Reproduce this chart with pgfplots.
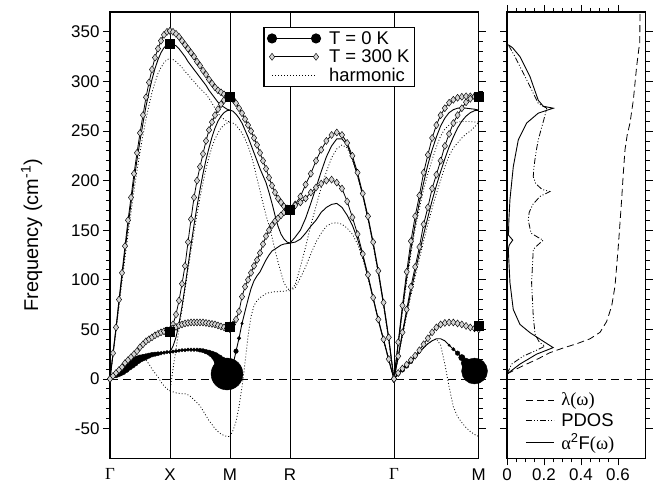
\documentclass[border=0pt]{standalone}
\usepackage{fontspec}
\setmainfont{Liberation Sans}
\newfontfamily\grk{Liberation Serif}
\usepackage{pgfplots}
\pgfplotsset{compat=1.18}
\usepackage{pgfplotstable}
\definecolor{diamgray}{HTML}{D4D4D4}
\newcommand\fsz{\fontsize{17}{20}\selectfont}
\newcommand\lsz{\fontsize{18.5}{21}\selectfont}

% Gamma-X : p = T=300K, z = T=0K, h = harmonic
\pgfplotstableread{
x     p1  p2   z1  z2   h1  h2
0     0   0    0   0    0   0
0.025 26  3    25  2    24  3
0.05  52  6    50  4    48  6
0.075 80  9    77  6    73  9
0.1   107 12   103 8    98  12
0.125 134 16   129 10.5 122 15
0.15  160 19   154 13   146 18
0.175 183 22   177 15   168 20
0.2   207 25   200 17   190 21
0.225 228 28   221 19   210 22
0.25  248 32   240 20.5 229 22
0.275 266 35   258 21.5 246 21
0.3   284 38   275 22.5 262 19
0.325 299 40   289 23.5 276 15
0.35  312 42   302 24.5 289 10
0.375 324 44   313 25   299 6
0.4   333 45.5 322 25.5 308 2
0.425 341 47   329 26   314 -3
0.45  347 48   334 26.5 319 -7
0.475 350 49   337 27   322 -10
0.5   351 49   338 27   323 -12
}\GX

\pgfplotstableread{
x     p1    p2    p3   z1  z2    z3   h1  h2  h3
0.5   351   49    49   338 27    27   323 -12 -12
0.525 350   55    51   337 33    27.5 322 10  -13
0.55  348   65    52.5 336 42    28   320 30  -14
0.575 345   79    54   333 56    28.5 317 50  -14.5
0.6   341   96    55   329 73    29   314 70  -15
0.625 337   114   56   325 93    29   310 90  -15
0.65  333   138   56.5 320 114   29.5 307 110 -16
0.675 329   161   57   316 135   29.5 303 129 -18
0.7   325   183   57   312 155   29.5 300 148 -21
0.725 320   200   57   308 174   29.5 296 166 -24
0.75  316   214   57   304 191   29   293 183 -27
0.775 311   227   57   300 207   28.5 290 198 -32
0.8   307   240   56.5 296 221   27.5 287 212 -37
0.825 302   251   56   291 233   26.5 283 224 -42
0.85  298   259   55.5 287 244   25   278 234 -46
0.875 294   266   55   283 253   23   273 242 -50
0.9   291   272   54   279 260   20   268 248 -53
0.925 289   277   53   276 265   16   264 253 -55.5
0.95  287   281   52   274 268.5 11   262 256 -57
0.975 285.5 283.5 51   272 270.5 6    260 258 -58
1.0   285   285   50   271 271   5    259 259 -58
}\XM

\pgfplotstableread{
x     p1  p2  z1  z2    h1  h2
1.0   285 54  271 5     259 -58
1.025 282 55  270 14    258 -52
1.05  278 60  267 28    256 -43
1.075 273 68  263 41    252 -28
1.1   268 83  258 56    248 -8
1.125 262 93  251 68    242 16
1.15  256 100 244 80    235 43
1.175 250 107 236 91    226 63
1.2   243 114 228 99    215 74
1.225 236 120 220 104   202 79
1.25  228 127 212 108   190 82
1.275 220 136 205 114   177 84
1.3   212 144 198 120   165 86
1.325 203 150 188 125   155 87
1.35  195 155 177 129   143 87.5
1.375 188 159 165 131   130 88
1.4   182 162 154 133   118 88
1.425 178 165 146 135   107 88.5
1.45  174 168 141 136   97  88.5
1.475 172 170 138 136.5 92  89
1.5   171 171 137 137   89  89
}\MR

\pgfplotstableread{
x      p1    p2  z1  z2  h1  h2
1.5    171   171 137 137 89  89
1.5433 176   175 143 138 95  92
1.5866 184   178 150 141 113 102
1.6299 196   182 162 147 133 113
1.6732 207   188 177 154 155 126
1.7165 220   193 193 160 174 138
1.7598 231   197 209 168 193 147
1.8031 240   200 224 173 209 154
1.8464 246   201 235 176 223 157
1.8897 248.5 198 242 177 232 157.5
1.933  246   192 242 173 236 156
1.9763 238   179 236 165 233 152
2.0196 225   163 222 155 221 146
2.0629 208   146 205 141 205 136
2.1062 187   126 185 124 185 121
2.1495 164   105 162 103 161 102
2.1928 138   82  136 81  135 81
2.2361 109   60  107 59  106 59
2.2794 77    40  75  39  74  39
2.3227 42    20  40  19  39  19
2.366  0     0   0   0   0   0
}\RG

\pgfplotstableread{
x      p1    p2    p3   z1    z2    z3   h1    h2  h3
2.366  0     0     0    0     0     0    0     0   0
2.4014 37    23    6    35    22    4.5  34    21  4.5
2.4367 74    47    10.5 70    45    9    67    43  9
2.4721 108   70    14.5 102   67    13   98    64  13
2.5074 139   93    19   131   88    17.5 126   84  17.5
2.5428 164   113   23.5 156   108   22   151   103 22
2.5781 185   133   29   178   127   27   172   121 27
2.6135 208   156   35   198   146   31.5 191   139 31.5
2.6488 226   173   41   216   163   35.5 207   156 35.5
2.6842 243   192   47   231   180   38.5 221   172 38.5
2.7196 256   206   52   244   195   40.5 234   187 40.5
2.7549 266   220   55   255   209   40.5 245   200 34
2.7903 273   235   56.5 263   222   38.5 252   214 15
2.8256 278.5 247   57   268.5 234   34   256   225 -8
2.861  281.5 258   57   271.5 244   30   258   233 -28
2.8963 283.5 266   56   273   253   26   259   238 -38
2.9317 284.5 273   55   273.5 260   21.5 259.5 243 -44
2.967  285   279   53.5 273   265   16   259.5 247 -49
3.0024 285   282.5 52   272.5 268.5 11   259.5 250 -53
3.0377 285   284.5 51   272   270.5 8    259   254 -56
3.0731 285   285   50   271   271   7    259   259 -58
}\GM

% T=0K coupling circles: x, y, radius
\pgfplotstableread{
x      y    r
0.025  2    1.8
0.05   4    2.9
0.075  6    3.7
0.1    8    4.3
0.125  10.5 4.7
0.15   13   4.8
0.175  15   4.8
0.2   17    4.6
0.225  19   4.2
0.25   20.5 3.8
0.275  21.5 3.4
0.3    22.5 3.0
0.325  23.5 2.7
0.35   24.5 2.4
0.375  25   2.2
0.4    25.5 2.0
0.425  26   1.9
0.45   26.5 1.8
0.475  27   1.7
0.5    27   1.7
0.525  27.5 1.7
0.55   28   1.7
0.575  28.5 1.7
0.6    29   1.7
0.625  29   1.7
0.65   29.5 1.7
0.675  29.5 1.8
0.7    29.5 1.8
0.725  29.5 1.9
0.75   29   2.0
0.775  28.5 2.1
0.8    27.5 2.3
0.825  26.5 2.7
0.85   25   3.2
0.875  23   4.0
0.9    20   5.0
0.925  16   6.5
0.95   11   9
0.975  5    16
1.025  14   3.5
1.05   28   2.3
1.075  41   1.8
1.1    56   1.3
2.4014 4.5  1.8
2.4367 9    2.2
2.4721 13   2.2
2.5074 17.5 2
2.5428 22   1.6
2.5781 27   1.2
2.8256 34   1.2
2.861  30   1.7
2.8963 26   2.3
2.9317 21.5 3.2
2.967  16   5
3.0024 11   8
3.0377 8    13
}\circ

\pgfplotstableread{
x      y
0.5    338
0.5    48
1.0    285
1.0    53
1.5    171
3.0731 285
3.0731 54
}\sq

\pgfplotstableread{
x     y
0     5
0.05  10
0.106 15
0.17  20.5
0.232 26.5
0.3   31
0.377 35.5
0.449 40.5
0.503 47
0.539 58
0.566 73.5
0.584 93.6
0.593 113.7
0.602 134
0.612 160
0.62  181
0.628 205
0.638 231
0.65  246
0.665 258
0.683 281
0.701 315
0.713 333
0.718 338
0.719 370
}\lam

\pgfplotstableread{
x     y
0     5
0.025 15
0.088 23
0.16  29
0.205 33
0.175 37
0.152 45
0.142 63
0.133 97
0.142 130.5
0.16  134
0.196 140
0.17  142.5
0.13  147
0.115 160
0.12  168
0.14  176
0.178 184
0.232 189
0.19  191
0.155 197
0.142 204
0.145 212
0.151 221
0.16  232
0.169 241
0.185 252
0.2   262
0.215 273
0.185 276
0.169 278
0.145 287
0.124 295
0.1   304
0.07  315
0.04  326
0.007 337
}\pdos

\pgfplotstableread{
x     y
0     5
0.07  15
0.16  25
0.25  31.6
0.196 38
0.124 46.7
0.07  55
0.034 70
0.016 97
0.007 130.5
0.012 135
0.031 140
0.008 145
0.01  160
0.016 181
0.034 214
0.061 241
0.106 258
0.169 268
0.25  273
0.196 275
0.169 281
0.124 305
0.07  325
0.03  334
0.007 337
}\aF

\pgfplotsset{
  tp/.style={forget plot, black, line width=0.8bp, mark=diamond*, mark size=3.5bp,
    mark options={solid, fill=diamgray, draw=black, line width=0.45bp}},
  tz/.style={forget plot, black, line width=0.9bp, no marks},
  th/.style={forget plot, black, line width=0.8bp, dash pattern=on 0.9bp off 2.1bp, no marks},
  zl/.style={forget plot, black, line width=0.8bp, dash pattern=on 8bp off 5bp},
  common/.style={scale only axis, height=446.3bp, ymin=-80, ymax=370,
    ytick={-50,0,50,100,150,200,250,300,350}, minor y tick num=4,
    tick align=outside, major tick length=7bp, minor tick length=4bp,
    axis line style={line width=1.1bp},
    every tick/.append style={black, line width=0.8bp},
    tick label style={font=\fsz},
    /pgf/number format/assume math mode=true},
}

\begin{document}
\begin{tikzpicture}
\begin{axis}[common, name=main, width=368.8bp,
  xmin=0, xmax=3.0731, clip=false,
  xtick={0,0.5,1,1.5,2.366,3.0731},
  xticklabels={{\grk Γ},X,M,R,{\grk Γ},M},
  xtick style={draw=none},
  xmajorgrids, grid style={black, line width=0.8bp, solid},
  ytick pos=both, yticklabel pos=left,
  ylabel={Frequency (cm\textsuperscript{-1})},
  ylabel style={font=\fontsize{20}{24}\selectfont}, ylabel shift=22bp,
  legend style={at={(0.416,0.967)}, anchor=north west, font=\lsz,
    draw=black, line width=1.1bp, fill=white, legend cell align=left,
    inner xsep=3bp, inner ysep=2bp, row sep=0bp,
    /tikz/every odd column/.append style={column sep=6bp}},
]
\addplot[zl] coordinates {(0,0) (3.0731,0)};

\foreach \c in {h1,h2} {\addplot[th] table[x=x,y=\c] {\GX};}
\foreach \c in {h1,h2,h3} {\addplot[th] table[x=x,y=\c] {\XM};}
\foreach \c in {h1,h2} {\addplot[th] table[x=x,y=\c] {\MR};}
\foreach \c in {h1,h2} {\addplot[th] table[x=x,y=\c] {\RG};}
\foreach \c in {h1,h2,h3} {\addplot[th] table[x=x,y=\c] {\GM};}

\foreach \c in {z1,z2} {\addplot[tz] table[x=x,y=\c] {\GX};}
\foreach \c in {z1,z2,z3} {\addplot[tz] table[x=x,y=\c] {\XM};}
\foreach \c in {z1,z2} {\addplot[tz] table[x=x,y=\c] {\MR};}
\foreach \c in {z1,z2} {\addplot[tz] table[x=x,y=\c] {\RG};}
\foreach \c in {z1,z2,z3} {\addplot[tz] table[x=x,y=\c] {\GM};}

\addplot[forget plot, scatter, only marks, mark=*, point meta=\thisrow{r},
  scatter/use mapped color={draw=black, fill=black},
  visualization depends on={\thisrow{r} \as \rad},
  scatter/@pre marker code/.append style={/tikz/mark size=\rad}]
  table[x=x,y=y] {\circ};

\foreach \c in {p1,p2} {\addplot[tp] table[x=x,y=\c] {\GX};}
\foreach \c in {p1,p2,p3} {\addplot[tp] table[x=x,y=\c] {\XM};}
\foreach \c in {p1,p2} {\addplot[tp] table[x=x,y=\c] {\MR};}
\foreach \c in {p1,p2} {\addplot[tp] table[x=x,y=\c] {\RG};}
\foreach \c in {p1,p2,p3} {\addplot[tp] table[x=x,y=\c] {\GM};}

\addplot[forget plot, only marks, mark=square*, mark size=4.5bp, black]
  table[x=x,y=y] {\sq};

\addlegendimage{legend image code/.code={
  \draw[black, line width=0.9bp] (0bp,0bp) -- (44bp,0bp);
  \fill[black] (0bp,0bp) circle[radius=4.5bp];
  \fill[black] (44bp,0bp) circle[radius=4.5bp];}}
\addlegendentry{T = 0 K}
\addlegendimage{legend image code/.code={
  \draw[black, line width=0.8bp, mark=diamond*, mark size=3.5bp,
    mark options={solid, fill=diamgray, draw=black, line width=0.45bp}]
    plot coordinates {(0bp,0bp) (44bp,0bp)};}}
\addlegendentry{T = 300 K}
\addlegendimage{legend image code/.code={
  \draw[black, line width=0.8bp, dash pattern=on 0.9bp off 2.1bp]
    (0bp,0bp) -- (44bp,0bp);}}
\addlegendentry{harmonic}
\end{axis}

\begin{axis}[common, name=side, at={(main.south east)}, xshift=28.2bp,
  anchor=south west, width=138.7bp,
  xmin=0, xmax=0.75, xtick={0,0.2,0.4,0.6}, xticklabels={0,0.2,0.4,0.6},
  minor x tick num=3, xtick pos=both, xticklabel pos=left,
  ytick pos=both, yticklabels={},
  legend style={at={(0.11,0.008)}, anchor=south west, draw=none, fill=none,
    font=\lsz, legend cell align=left, row sep=2bp,
    /tikz/every odd column/.append style={column sep=5bp}},
  legend image code/.code={\draw[#1] (0bp,0bp) -- (28bp,0bp);},
]
\addplot[zl] coordinates {(0,0) (0.75,0)};
\addplot[black, line width=0.8bp, dash pattern=on 7bp off 4bp] table[x=x,y=y] {\lam};
\addlegendentry{{\grk λ(ω)}}
\addplot[black, line width=0.8bp, dash pattern=on 6bp off 2bp on 1bp off 2bp on 1bp off 2bp] table[x=x,y=y] {\pdos};
\addlegendentry{PDOS}
\addplot[black, line width=0.9bp] table[x=x,y=y] {\aF};
\addlegendentry{{\grk α}\textsuperscript{2}F{\grk (ω)}}
\end{axis}

\path (main.south west) ++(-110bp,-40.7bp) rectangle ++(668bp,499bp);
\end{tikzpicture}
\end{document}
